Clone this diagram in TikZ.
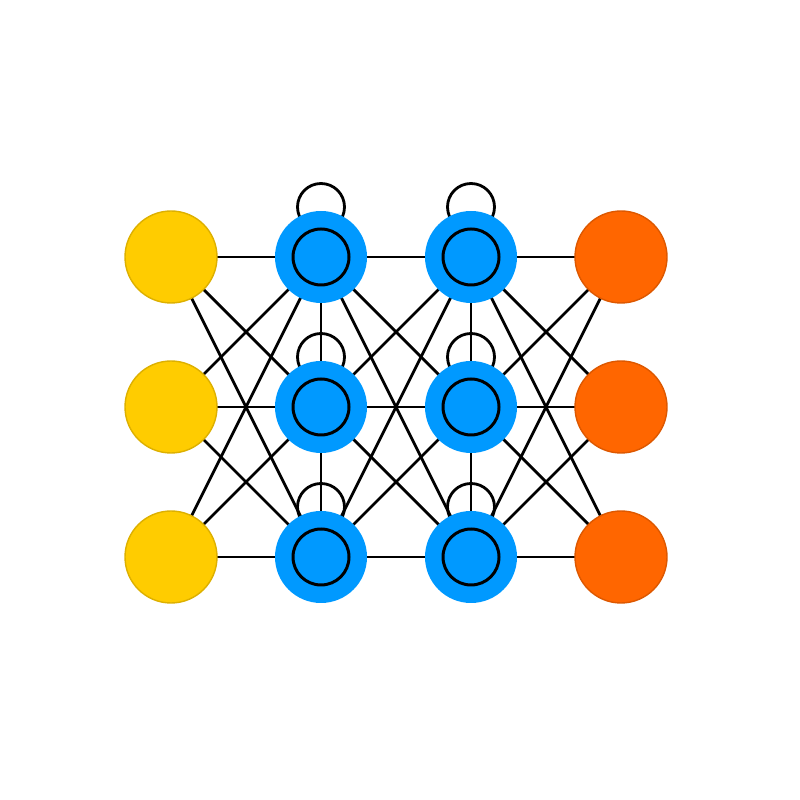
\documentclass[tikz,border=0pt]{standalone}
\usetikzlibrary{backgrounds}
\definecolor{inyellow}{HTML}{FFCC00}
\definecolor{inyellowline}{HTML}{DDB000}
\definecolor{hidblue}{HTML}{0099FF}
\definecolor{outorange}{HTML}{FF6600}
\definecolor{outorangeline}{HTML}{DD5800}

\begin{document}
\begin{tikzpicture}[
    inputnode/.style={draw=inyellowline, line width=0.4pt, circle, fill=inyellow, minimum size=0.92cm, inner sep=0pt},
    hiddenunit/.style={circle, fill=hidblue, minimum size=0.92cm, inner sep=0pt},
    hiddencore/.style={draw, line width=0.85pt, circle, fill=hidblue, minimum size=0.56cm, inner sep=0pt},
    outnode/.style={draw=outorangeline, line width=0.4pt, circle, fill=outorange, minimum size=0.92cm, inner sep=0pt},
    link/.style={line width=0.8pt},
]
    \useasboundingbox (0,0) rectangle (8,8);

    \node[inputnode] (x0) at (1.71, 5.43) {};
    \node[inputnode] (x1) at (1.71, 3.93) {};
    \node[inputnode] (x2) at (1.71, 2.43) {};

    \foreach \i/\y in {0/5.43, 1/3.93, 2/2.43} {
        \node[hiddenunit] (a\i) at (3.21, \y) {};
        \node[hiddencore] at (a\i) {};
        \node[hiddenunit] (b\i) at (4.71, \y) {};
        \node[hiddencore] at (b\i) {};
    }

    \node[outnode] (y0) at (6.21, 5.43) {};
    \node[outnode] (y1) at (6.21, 3.93) {};
    \node[outnode] (y2) at (6.21, 2.43) {};

    \begin{scope}[on background layer]
        \foreach \i in {0, 1, 2} {
            \foreach \j in {0, 1, 2} {
                \draw[link] (x\i.center) -- (a\j.center);
                \draw[link] (a\i.center) -- (b\j.center);
                \draw[link] (b\i.center) -- (y\j.center);
            }
            % recurrent loops
            \draw[link] ([yshift=0.5cm]a\i.center) circle (0.235);
            \draw[link] ([yshift=0.5cm]b\i.center) circle (0.235);
        }
        \draw[link] (a0.center) -- (a1.center) -- (a2.center);
        \draw[link] (b0.center) -- (b1.center) -- (b2.center);
    \end{scope}

\end{tikzpicture}
\end{document}
